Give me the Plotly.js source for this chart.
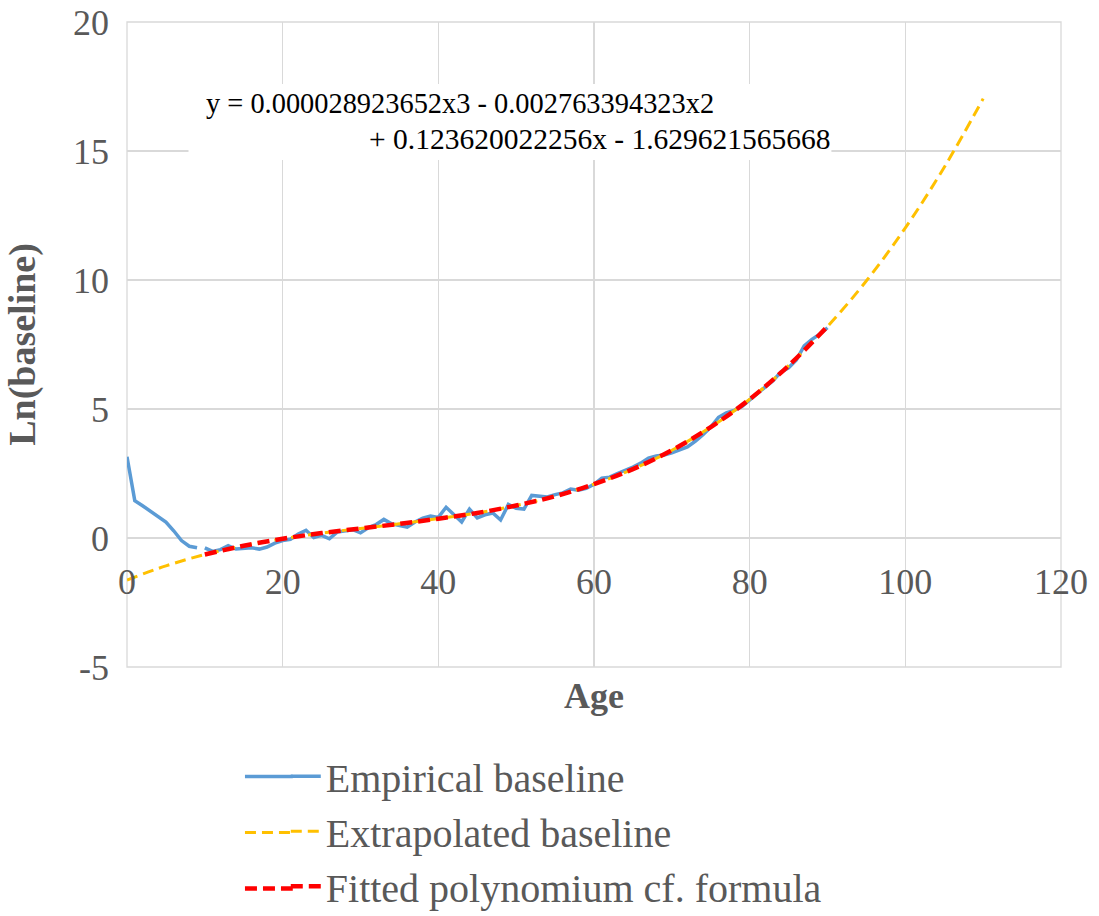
<!DOCTYPE html>
<html>
<head>
<meta charset="utf-8">
<script src="https://cdn.plot.ly/plotly-3.0.1.min.js"></script>
<style>html,body{margin:0;padding:0;background:#fff;}#chart{width:1099px;height:916px;}</style>
</head>
<body>
<div id="chart"></div>
<script>
// Empirical baseline; null = gap in the line
const empAge = [0,1,2,3,4,5,6,7,8,9,9.5,10,11,12,13,14,15,16,17,18,19,20,21,22,23,24,25,26,27,28,29,30,31,32,33,34,35,36,37,38,39,40,41,42,43,44,45,46,47,48,49,50,51,52,53,54,55,56,57,58,59,60,61,62,63,64,65,66,67,68,69,70,71,72,73,74,75,76,77,78,79,80,81,82,83,84,85,86,87,88,89,90];
const empVal = [3.15,1.45,1.25,1.05,0.85,0.62,0.28,-0.1,-0.32,-0.38,null,-0.38,-0.52,-0.45,-0.3,-0.43,-0.42,-0.38,-0.43,-0.35,-0.2,-0.1,-0.05,0.15,0.3,0.02,0.1,-0.03,0.23,0.28,0.32,0.2,0.4,0.52,0.72,0.55,0.48,0.42,0.62,0.77,0.85,0.8,1.19,0.9,0.62,1.12,0.78,0.9,0.97,0.7,1.3,1.15,1.12,1.65,1.62,1.59,1.68,1.75,1.9,1.85,1.92,2.08,2.32,2.36,2.5,2.62,2.75,2.9,3.1,3.18,3.22,3.3,3.4,3.53,3.75,4.0,4.3,4.68,4.85,4.95,5.1,5.35,5.6,5.85,6.1,6.43,6.6,6.9,7.45,7.7,7.9,8.15];

// Extrapolated baseline
const extAge = [0,5,10,15,20,25,30,35,40,45,50,55,60,65,70,75,80,85,90,95,100,105,110];
const extVal = [-1.63,-1.08,-0.64,-0.30,-0.03,0.19,0.37,0.55,0.75,0.97,1.26,1.62,2.09,2.67,3.40,4.30,5.38,6.68,8.20,9.97,12.02,14.37,17.03];

// Fitted polynomium
const fitAge = [10,15,20,25,30,35,40,45,50,55,60,65,70,75,80,85,90];
const fitVal = [-0.64,-0.30,-0.03,0.19,0.37,0.55,0.75,0.97,1.26,1.62,2.09,2.67,3.40,4.30,5.38,6.68,8.20];

const seriesNames = ['Empirical baseline','Extrapolated baseline','Fitted polynomium cf. formula'];
const seriesColors = ['#5B9BD5','#FFC000','#FF0000'];
const xTicks = [0,20,40,60,80,100,120];
const yTicks = [-5,0,5,10,15,20];
const eqLine1 = 'y = 0.000028923652x3 - 0.002763394323x2';
const eqLine2 = '+ 0.123620022256x - 1.629621565668';

const serif = 'Liberation Serif';
const grey = '#595959';
const grid = '#d9d9d9';

const lineStyles = [
  {color: seriesColors[0], width: 3.5},
  {color: seriesColors[1], width: 3, dash: '11px,6px'},
  {color: seriesColors[2], width: 4.5, dash: '12px,6px'}
];

const traces = [
  {x: empAge, y: empVal, name: seriesNames[0], type: 'scatter', mode: 'lines',
   line: lineStyles[0], connectgaps: false, legendgroup: 'a'},
  {x: extAge, y: extVal, name: seriesNames[1], type: 'scatter', mode: 'lines',
   line: Object.assign({shape: 'spline'}, lineStyles[1]), legendgroup: 'b'},
  {x: fitAge, y: fitVal, name: seriesNames[2], type: 'scatter', mode: 'lines',
   line: Object.assign({shape: 'spline'}, lineStyles[2]), legendgroup: 'c'}
];

// longer legend samples: extend the legend keys to the left
const legendRowsY = [-0.1698, -0.2566, -0.3434];
const legendExt = lineStyles.map((ls, i) => ({
  type: 'line', xref: 'paper', yref: 'paper', x0: 0.1263, x1: 0.1775,
  y0: legendRowsY[i], y1: legendRowsY[i], line: ls, layer: 'above'
}));

const layout = {
  width: 1099, height: 916,
  margin: {l: 127, r: 38, t: 22, b: 249, autoexpand: false},
  paper_bgcolor: '#fff', plot_bgcolor: '#fff',
  font: {family: serif, color: grey},
  showlegend: true,
  legend: {x: 0.17, y: -0.119, xanchor: 'left', yanchor: 'top', orientation: 'v',
           font: {family: serif, size: 40, color: grey}, traceorder: 'grouped', tracegroupgap: 0,
           bgcolor: 'rgba(0,0,0,0)'},
  xaxis: {range: [0, 120], tickvals: xTicks, ticktext: xTicks.map(String),
          showgrid: true, gridcolor: grid, gridwidth: 1.3, zeroline: false, showline: false,
          anchor: 'free', position: 0.1984, ticks: '', ticklabelstandoff: 18,
          tickfont: {family: serif, size: 36, color: grey},
          title: {text: '<b>Age</b>', font: {family: serif, size: 36, color: grey}, standoff: 81}},
  yaxis: {range: [-5, 20], tickvals: yTicks, ticktext: yTicks.map(String),
          showgrid: true, gridcolor: grid, gridwidth: 1.3, zeroline: false, showline: false,
          ticks: '', ticklabelstandoff: 17,
          tickfont: {family: serif, size: 36, color: grey},
          title: {text: '<b>Ln(baseline)</b>', font: {family: serif, size: 38, color: grey}, standoff: 25}},
  shapes: [
    {type: 'rect', xref: 'paper', yref: 'paper', x0: 0, x1: 1, y0: 0, y1: 1,
     line: {color: grid, width: 1.3}, fillcolor: 'rgba(0,0,0,0)', layer: 'below'},
    {type: 'rect', xref: 'x', yref: 'y', x0: 7.9, x1: 90.5, y0: 14.65, y1: 17.6,
     line: {width: 0}, fillcolor: '#ffffff', layer: 'between'}
  ].concat(legendExt),
  annotations: [
    {xref: 'x', yref: 'y', x: 9.9, y: 16.85, xanchor: 'left', yanchor: 'middle', showarrow: false,
     text: eqLine1, font: {family: serif, size: 28.4, color: '#000'}},
    {xref: 'x', yref: 'y', x: 30.8, y: 15.45, xanchor: 'left', yanchor: 'middle', showarrow: false,
     text: eqLine2, font: {family: serif, size: 29.5, color: '#000'}}
  ]
};

Plotly.newPlot('chart', traces, layout, {displayModeBar: false, staticPlot: true});
</script>
</body>
</html>
